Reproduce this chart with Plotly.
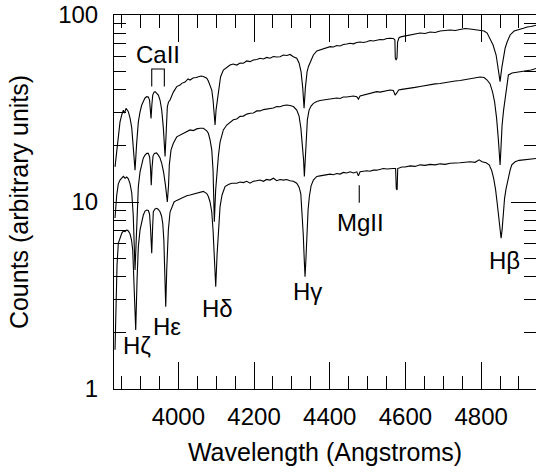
import plotly.graph_objects as go

# ---------------- data ----------------
top_wl = [3832.7, 3837.2, 3841.4, 3845.9, 3850.4, 3854.7, 3857.9, 3861.8, 3867.9, 3872.4,
          3876.9, 3880.3, 3885.6, 3889.6, 3894.3, 3898.8, 3903.3, 3908.1, 3912.0, 3916.5,
          3920.7, 3923.9, 3926.0, 3927.9, 3930.0, 3932.3, 3935.8, 3938.4, 3942.9, 3947.1,
          3951.6, 3956.1, 3960.4, 3963.0, 3964.9, 3967.0, 3970.9, 3974.1, 3978.1, 3986.8,
          3995.8, 4004.5, 4009.0, 4017.7, 4025.6, 4030.9, 4038.8, 4046.8, 4052.9, 4060.0,
          4066.1, 4075.1, 4079.3, 4083.8, 4088.3, 4091.7, 4094.9, 4097.0, 4099.6, 4103.6,
          4107.6, 4111.5, 4118.9, 4127.9, 4136.6, 4144.6, 4154.3, 4163.1, 4171.8, 4180.8,
          4189.5, 4198.2, 4207.2, 4216.0, 4224.6, 4233.6, 4242.3, 4251.1, 4260.0, 4268.8,
          4277.5, 4286.5, 4295.2, 4303.9, 4312.9, 4319.0, 4324.3, 4328.7, 4332.2, 4335.6,
          4340.1, 4343.6, 4350.7, 4356.8, 4365.8, 4374.5, 4383.2, 4392.2, 4400.9, 4409.6,
          4418.6, 4427.3, 4436.0, 4445.0, 4453.8, 4462.5, 4471.5, 4480.2, 4488.9, 4497.9,
          4506.6, 4515.3, 4524.3, 4533.0, 4541.8, 4550.8, 4559.5, 4568.2, 4572.2, 4573.2,
          4575.4, 4577.7, 4579.3, 4583.3, 4590.4, 4599.1, 4612.3, 4625.5, 4638.7, 4652.0,
          4665.2, 4678.4, 4691.6, 4704.8, 4718.0, 4731.3, 4744.5, 4757.7, 4770.9, 4784.1,
          4797.3, 4807.9, 4815.9, 4823.7, 4831.6, 4839.6, 4845.6, 4850.1, 4854.6, 4858.1,
          4863.4, 4868.7, 4876.6, 4887.2, 4897.7, 4911.7, 4921.5, 4932.1, 4947.1]
top_counts = [15.4, 19.0, 23.3, 26.8, 29.2, 31.0, 29.9, 31.7, 30.4, 28.1,
              24.9, 20.2, 14.8, 20.2, 26.8, 30.3, 33.0, 34.7, 36.0, 36.6,
              36.4, 35.1, 31.8, 28.0, 33.0, 37.3, 38.7, 38.9, 38.1, 37.3,
              35.1, 31.0, 24.9, 20.2, 17.5, 21.5, 32.3, 34.3, 35.1, 38.7,
              41.4, 42.2, 43.1, 43.8, 45.5, 44.9, 46.0, 46.3, 46.8, 47.2,
              46.9, 45.9, 44.4, 42.2, 39.7, 35.1, 29.2, 25.8, 31.0, 36.4,
              42.2, 46.6, 50.8, 52.7, 54.0, 54.7, 54.0, 55.4, 55.2, 56.8,
              56.3, 57.5, 57.8, 58.7, 58.2, 59.3, 58.7, 60.0, 59.6, 59.8,
              61.1, 60.7, 61.5, 59.8, 58.7, 55.4, 49.6, 40.7, 31.7, 40.7,
              49.6, 52.9, 57.5, 61.1, 64.2, 65.0, 65.8, 66.6, 67.7, 67.4,
              68.7, 68.3, 69.5, 70.0, 70.6, 70.1, 71.3, 71.7, 71.3, 72.0,
              73.0, 72.6, 73.5, 74.0, 73.7, 74.9, 75.1, 74.9, 73.5, 58.9,
              57.5, 58.9, 71.7, 75.8, 76.6, 77.2, 78.2, 78.7, 80.1, 79.6,
              81.1, 80.6, 82.1, 82.6, 83.1, 82.6, 83.6, 84.7, 84.2, 83.6,
              83.1, 82.1, 80.1, 75.1, 69.1, 61.1, 52.1, 44.0, 52.1, 58.9,
              66.4, 71.7, 78.2, 82.1, 83.1, 84.9, 86.3, 86.8, 88.4]

mid_wl = [3832.7, 3837.2, 3841.4, 3845.9, 3850.4, 3854.7, 3859.2, 3863.6, 3867.9, 3872.4,
          3876.9, 3880.8, 3885.6, 3890.1, 3894.3, 3898.8, 3903.3, 3907.5, 3912.0, 3916.5,
          3920.7, 3924.2, 3926.5, 3928.4, 3930.5, 3933.1, 3936.6, 3942.4, 3947.1, 3951.6,
          3956.1, 3960.9, 3966.2, 3970.9, 3974.1, 3976.2, 3980.7, 3986.8, 3995.8, 4004.5,
          4013.2, 4022.2, 4030.9, 4039.6, 4048.6, 4057.3, 4066.1, 4075.1, 4079.3, 4083.8,
          4088.3, 4091.7, 4095.1, 4098.6, 4102.3, 4105.7, 4110.2, 4114.7, 4118.9, 4127.9,
          4136.6, 4145.3, 4154.3, 4163.1, 4171.8, 4180.8, 4189.5, 4198.2, 4207.2, 4216.0,
          4224.6, 4233.6, 4242.3, 4251.1, 4260.0, 4268.8, 4277.5, 4286.5, 4295.2, 4303.9,
          4312.9, 4319.0, 4323.7, 4328.2, 4330.9, 4333.0, 4335.4, 4338.3, 4340.9, 4345.4,
          4350.7, 4356.8, 4365.8, 4374.5, 4383.2, 4392.2, 4400.9, 4409.6, 4418.6, 4427.3,
          4436.0, 4445.0, 4453.8, 4462.5, 4471.5, 4475.7, 4480.2, 4488.9, 4497.9, 4506.6,
          4515.3, 4524.3, 4533.0, 4541.8, 4550.8, 4559.5, 4568.2, 4572.7, 4577.2, 4582.0,
          4590.4, 4599.1, 4612.3, 4625.5, 4638.7, 4652.0, 4665.2, 4678.4, 4691.6, 4704.8,
          4718.0, 4731.3, 4744.5, 4757.7, 4770.9, 4784.1, 4797.3, 4807.9, 4815.9, 4823.7,
          4830.3, 4835.6, 4840.9, 4845.6, 4848.3, 4850.1, 4852.2, 4855.4, 4859.4, 4863.4,
          4867.3, 4872.1, 4881.9, 4892.4, 4903.0, 4911.7, 4921.5, 4932.1, 4947.1]
mid_counts = [8.21, 10.9, 12.5, 13.1, 13.4, 13.7, 13.4, 13.6, 13.3, 12.5,
              11.2, 8.52, 4.33, 8.52, 12.1, 14.5, 16.1, 17.2, 17.8, 18.2,
              18.2, 17.4, 15.2, 12.3, 15.2, 17.6, 18.2, 18.3, 17.8, 17.2,
              16.1, 14.5, 12.2, 10.0, 12.3, 15.8, 19.0, 20.6, 22.3, 22.8,
              23.4, 23.8, 24.3, 24.1, 24.6, 24.8, 24.8, 24.0, 23.3, 21.5,
              19.0, 14.8, 7.85, 11.6, 14.8, 17.5, 20.9, 23.1, 24.3, 25.8,
              26.6, 27.5, 27.8, 28.7, 28.8, 29.5, 29.8, 29.9, 30.7, 30.7,
              31.2, 31.4, 31.7, 31.8, 32.4, 32.3, 32.8, 33.0, 32.8, 32.4,
              31.0, 28.8, 24.9, 20.2, 16.8, 13.7, 16.8, 21.5, 27.5, 31.0,
              32.6, 33.7, 34.5, 34.9, 35.1, 35.3, 35.5, 35.8, 36.0, 35.8,
              36.4, 36.4, 36.7, 36.9, 36.6, 35.5, 36.9, 37.3, 37.6, 37.8,
              38.3, 38.9, 38.7, 39.0, 39.2, 39.7, 39.5, 37.3, 38.3, 39.7,
              40.0, 40.2, 40.7, 41.0, 41.5, 42.0, 42.2, 42.8, 43.0, 43.6,
              43.8, 44.4, 44.6, 45.2, 45.5, 46.0, 46.6, 46.3, 44.9, 42.8,
              38.7, 34.3, 28.1, 21.5, 17.8, 15.8, 19.0, 25.8, 31.0, 35.8,
              42.2, 47.8, 49.0, 49.3, 49.6, 49.8, 50.5, 50.8, 51.9]

bot_wl = [3832.7, 3835.4, 3838.0, 3841.4, 3845.9, 3850.4, 3854.7, 3859.2, 3863.6, 3867.9,
          3872.4, 3876.3, 3879.5, 3883.0, 3887.4, 3890.9, 3894.3, 3898.8, 3903.3, 3907.5,
          3912.0, 3916.5, 3920.7, 3923.9, 3926.5, 3929.7, 3932.0, 3933.9, 3938.4, 3942.9,
          3947.1, 3951.6, 3955.6, 3958.8, 3961.7, 3964.3, 3966.7, 3969.3, 3971.5, 3973.6,
          3978.1, 3982.6, 3988.6, 3995.8, 4004.5, 4013.2, 4022.2, 4030.9, 4039.6, 4048.6,
          4057.3, 4066.1, 4075.1, 4079.3, 4083.8, 4088.3, 4091.7, 4095.1, 4098.8, 4102.3,
          4106.2, 4110.2, 4115.5, 4123.4, 4132.1, 4141.1, 4154.3, 4163.1, 4171.8, 4180.8,
          4189.5, 4198.2, 4207.2, 4216.0, 4224.6, 4233.6, 4242.3, 4251.1, 4260.0, 4268.8,
          4277.5, 4286.5, 4295.2, 4303.9, 4312.9, 4319.0, 4323.5, 4326.9, 4330.1, 4332.7,
          4334.8, 4337.0, 4339.6, 4342.8, 4346.2, 4350.7, 4356.8, 4365.8, 4374.5, 4383.2,
          4392.2, 4400.9, 4409.6, 4418.6, 4427.3, 4436.0, 4445.0, 4453.8, 4462.5, 4471.5,
          4475.7, 4480.2, 4488.9, 4497.9, 4506.6, 4515.3, 4524.3, 4533.0, 4541.8, 4550.8,
          4559.5, 4568.2, 4574.0, 4575.9, 4578.0, 4579.6, 4590.4, 4599.1, 4612.3, 4625.5,
          4638.7, 4652.0, 4665.2, 4678.4, 4691.6, 4704.8, 4718.0, 4731.3, 4744.5, 4757.7,
          4770.9, 4784.1, 4794.6, 4802.6, 4813.2, 4821.2, 4827.7, 4833.0, 4838.3, 4843.0,
          4847.0, 4850.1, 4852.8, 4855.4, 4858.6, 4862.0, 4866.0, 4871.3, 4876.6, 4881.0,
          4889.8, 4900.4, 4911.7, 4921.5, 4932.1, 4947.1]
bot_counts = [1.62, 2.99, 4.60, 6.01, 6.50, 6.80, 7.00, 6.95, 7.09, 7.00,
              6.74, 6.26, 5.54, 3.83, 2.07, 3.83, 5.77, 7.09, 7.91, 8.52,
              8.95, 9.06, 9.01, 8.63, 7.26, 5.32, 7.26, 8.87, 9.18, 9.25,
              9.12, 8.87, 8.42, 7.69, 6.26, 4.33, 2.75, 4.33, 5.89, 7.09,
              8.84, 9.44, 10.0, 10.2, 10.4, 10.6, 10.8, 10.9, 11.0, 11.2,
              11.2, 11.4, 11.1, 10.7, 10.0, 8.84, 7.09, 4.90, 3.52, 5.21,
              7.53, 9.44, 10.9, 12.1, 12.4, 12.6, 12.6, 12.8, 12.7, 12.9,
              12.6, 12.9, 13.0, 13.1, 12.9, 13.2, 13.1, 13.4, 13.0, 13.2,
              13.1, 13.2, 13.0, 12.9, 12.6, 12.0, 11.1, 9.06, 6.66, 4.90,
              3.99, 4.90, 6.91, 9.06, 10.7, 12.2, 13.1, 13.7, 13.8, 13.9,
              13.9, 14.1, 14.0, 14.2, 14.1, 14.4, 14.3, 14.5, 14.3, 14.5,
              13.8, 14.5, 14.6, 14.7, 14.6, 14.8, 14.8, 14.9, 15.1, 15.0,
              15.1, 15.1, 15.1, 11.8, 11.6, 15.1, 15.4, 15.4, 15.6, 15.5,
              15.8, 15.7, 15.9, 15.8, 16.0, 15.9, 16.1, 16.1, 16.2, 16.3,
              16.4, 16.3, 16.8, 16.4, 16.2, 15.8, 14.8, 13.4, 11.6, 9.64,
              8.01, 6.91, 6.40, 7.09, 8.84, 10.5, 11.8, 13.4, 14.8, 15.8,
              16.4, 16.7, 16.8, 16.9, 17.0, 17.1]

x_tick_vals = [4000, 4200, 4400, 4600, 4800]
y_tick_vals = [1, 10, 100]
y_tick_text = ["1", "10", "100"]

# line identifications: (label, wavelength of label centre, log10 height of label centre)
line_labels = ["H\u03b6", "H\u03b5", "H\u03b4", "H\u03b3", "H\u03b2", "CaII", "MgII"]
label_wl = [3891, 3969, 4104, 4340, 4863, 3947, 4480]
label_logy = [0.230, 0.333, 0.429, 0.520, 0.687, 1.790, 0.893]

caii_wl = [3929.7, 3929.7, 3963.0, 3963.0]
caii_level = [41.4, 51.4, 51.4, 41.4]
mgii_wl = [4478.0, 4478.0]
mgii_level = [9.9, 12.3]

FONT = "Liberation Sans"

fig = go.Figure()
for wl, cts in [(top_wl, top_counts), (mid_wl, mid_counts), (bot_wl, bot_counts)]:
    fig.add_trace(go.Scatter(x=wl, y=cts, mode="lines",
                             line=dict(color="black", width=1.1),
                             showlegend=False, hoverinfo="skip"))
fig.add_trace(go.Scatter(x=caii_wl, y=caii_level, mode="lines",
                         line=dict(color="black", width=1.1),
                         showlegend=False, hoverinfo="skip"))
fig.add_trace(go.Scatter(x=mgii_wl, y=mgii_level, mode="lines",
                         line=dict(color="black", width=1.1),
                         showlegend=False, hoverinfo="skip"))

for txt, xw, ly in zip(line_labels, label_wl, label_logy):
    fig.add_annotation(x=xw, y=ly, xref="x", yref="y", text=txt, showarrow=False,
                       xanchor="center", yanchor="middle",
                       font=dict(family=FONT, size=24, color="black"))

axis_common = dict(showline=True, linecolor="black", linewidth=1, mirror="allticks",
                   ticks="inside", tickcolor="black", tickwidth=1,
                   showgrid=False, zeroline=False,
                   tickfont=dict(family=FONT, size=24, color="black"))

fig.update_xaxes(range=[3830, 4945], tickmode="array", tickvals=x_tick_vals,
                 ticklen=27, ticklabelstandoff=6,
                 minor=dict(ticks="inside", dtick=50, tick0=4000, ticklen=13,
                            tickcolor="black", tickwidth=1, showgrid=False),
                 title=dict(text="Wavelength (Angstroms)", standoff=14,
                            font=dict(family=FONT, size=25, color="black")),
                 **axis_common)
fig.update_yaxes(type="log", range=[0, 2], tickmode="array", tickvals=y_tick_vals,
                 ticktext=y_tick_text, ticklen=25, ticklabelstandoff=10,
                 minor=dict(ticks="inside", ticklen=12, tickcolor="black", tickwidth=1,
                            tickmode="array",
                            tickvals=[2, 3, 4, 5, 6, 7, 8, 9, 20, 30, 40, 50, 60, 70, 80, 90],
                            showgrid=False),
                 title=dict(text="Counts (arbitrary units)", standoff=22,
                            font=dict(family=FONT, size=25, color="black")),
                 **axis_common)

fig.update_layout(width=536, height=473,
                  margin=dict(l=114, r=0, t=15, b=84, autoexpand=False),
                  paper_bgcolor="white", plot_bgcolor="white",
                  font=dict(family=FONT, color="black"))

fig.write_html("out.html", config={"displayModeBar": False, "staticPlot": True},
               post_script="document.body.style.margin='0';document.body.style.overflow='hidden';")
